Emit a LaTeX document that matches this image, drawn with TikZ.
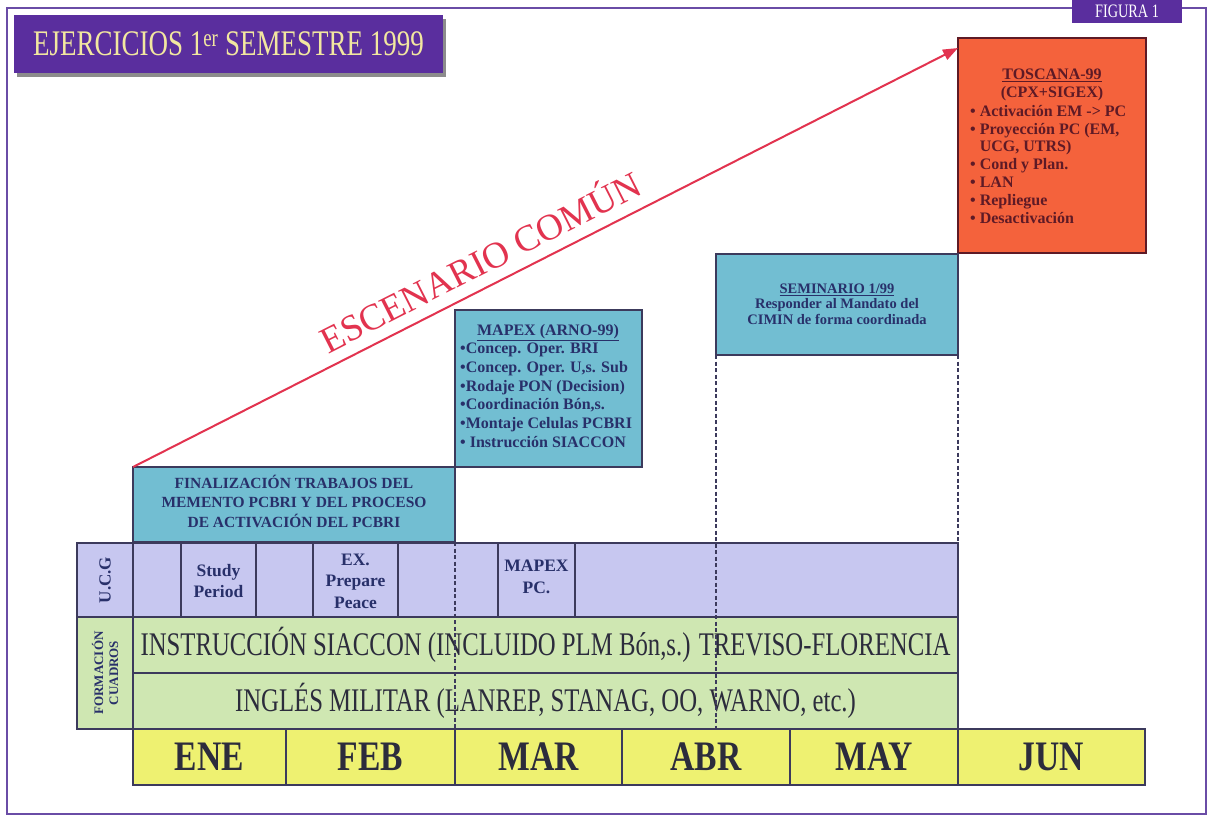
\documentclass[tikz,border=0pt]{standalone}
\usepackage{fontspec}
\setmainfont{Liberation Serif}
\newfontfamily\cond{Liberation Serif}[FakeStretch=0.8]
\newfontfamily\condb{Liberation Serif}[FakeStretch=0.75]
\usetikzlibrary{arrows.meta}
\definecolor{framec}{HTML}{6A4CA6}
\definecolor{titlec}{HTML}{5A2E9E}
\definecolor{titletext}{HTML}{F2E7A0}
\definecolor{toscc}{HTML}{F4623C}
\definecolor{tosctext}{HTML}{5E1A26}
\definecolor{tealc}{HTML}{72BED2}
\definecolor{boxtext}{HTML}{28306A}
\definecolor{ucgc}{HTML}{C7C7F0}
\definecolor{greenc}{HTML}{CFE7B2}
\definecolor{monthc}{HTML}{EEF171}
\definecolor{linec}{HTML}{3C3A5C}
\definecolor{arrowc}{HTML}{E2334F}
\definecolor{rowtext}{HTML}{2C2C3C}
\begin{document}
\begin{tikzpicture}[x=1pt,y=-1pt,
  cell/.style={draw=linec, line width=1.2pt, anchor=north west, inner sep=0pt, outer sep=0pt},
  boxtxt/.style={inner sep=0pt, text=boxtext, font=\bfseries\fontsize{15.5}{19}\selectfont},
  celltxt/.style={inner sep=0pt, align=center, text=boxtext, font=\bfseries\fontsize{17.5}{21.5}\selectfont},
  rowtxt/.style={inner sep=0pt, text=rowtext, font=\condb\fontsize{33}{33}\selectfont},
  monthtxt/.style={inner sep=0pt, text=rowtext, font=\cond\bfseries\fontsize{42}{42}\selectfont},
  dashline/.style={draw=linec, line width=1.2pt, dash pattern=on 4pt off 2.5pt},
  divider/.style={draw=linec, line width=1.2pt}
]
\useasboundingbox (0,0) rectangle (1209,817);
\fill[white] (0,0) rectangle (1209,817);
% outer frame
\draw[framec, line width=2pt] (7,8) rectangle (1206,814);
% title
\fill[black!45] (17,19) rectangle (446,77);
\node[cell, draw=none, fill=titlec, minimum width=429pt, minimum height=58pt, text=titletext,
      font=\condb\fontsize{36}{36}\selectfont] (title) at (14,15) {EJERCICIOS 1\textsuperscript{er} SEMESTRE 1999};
\node[cell, draw=none, fill=titlec, minimum width=110pt, minimum height=23pt, text=white,
      font=\condb\fontsize{19}{19}\selectfont] (fig) at (1072,0) {FIGURA 1};

% TOSCANA
\node[cell, fill=toscc, draw=tosctext, minimum width=188pt, minimum height=215pt] (tosc) at (958,38) {};
\node[anchor=north, align=center, inner sep=0pt, text=tosctext, font=\bfseries\fontsize{16}{17.8}\selectfont]
  (toscT) at (1052,69) {\underline{TOSCANA-99}\\(CPX+SIGEX)};
\node[anchor=north west, align=left, inner sep=0pt, text=tosctext, font=\bfseries\fontsize{16}{17.8}\selectfont]
  (toscL) at (970,105) {• Activación EM -> PC\\• Proyección PC (EM,\\\phantom{• }UCG, UTRS)\\• Cond y Plan.\\• LAN\\• Repliegue\\• Desactivación};

% MAPEX
\node[cell, fill=tealc, minimum width=187pt, minimum height=157pt] (mapex) at (455,310) {};
\node[boxtxt, anchor=north, font=\bfseries\fontsize{16}{19}\selectfont] (mapexT) at (548,324) {\underline{MAPEX (ARNO-99)}};
\node[boxtxt, anchor=north west, align=left, font=\bfseries\fontsize{16}{18.7}\selectfont] (mapexL) at (460,343)
  {•Concep. Oper. BRI\\•Concep. Oper. U,s. Sub\\•Rodaje PON (Decision)\\•Coordinación Bón,s.\\•Montaje Celulas PCBRI\\• Instrucción SIACCON};

% SEMINARIO
\node[cell, fill=tealc, minimum width=242pt, minimum height=101pt] (sem) at (716,254) {};
\node[boxtxt, align=center, font=\bfseries\fontsize{14.5}{15.5}\selectfont] (semT) at (837,304)
  {\underline{SEMINARIO 1/99}\\Responder al Mandato del\\CIMIN de forma coordinada};

% FINALIZACION
\node[cell, fill=tealc, minimum width=322pt, minimum height=75pt] (fin) at (133,467) {};
\node[boxtxt, align=center, font=\bfseries\fontsize{15.5}{19.5}\selectfont] (finT) at (294,501)
  {FINALIZACIÓN TRABAJOS DEL\\MEMENTO PCBRI Y DEL PROCESO\\DE ACTIVACIÓN DEL PCBRI};

% U.C.G row
\node[cell, fill=ucgc, minimum width=56pt, minimum height=74pt] (ucgl) at (77,543) {};
\node[rotate=90, inner sep=0pt, text=boxtext, font=\bfseries\fontsize{17}{17}\selectfont] (ucgT) at (ucgl.center) {U.C.G};
\node[cell, fill=ucgc, minimum width=825pt, minimum height=74pt] (ucgrow) at (133,543) {};
\foreach \xx in {181,256,313,398,498,575} \draw[divider] (\xx,543) -- (\xx,617);
\node[celltxt] (study) at (218.5,581) {Study\\Period};
\node[celltxt] (prep) at (355.5,581) {EX.\\Prepare\\Peace};
\node[celltxt] (mpc) at (536.5,577) {MAPEX\\PC.};

% FORMACION rows
\node[cell, fill=greenc, minimum width=56pt, minimum height=112pt] (forml) at (77,617) {};
\node[rotate=90, inner sep=0pt, align=center, text=boxtext, font=\bfseries\fontsize{13}{15}\selectfont] (formT) at (forml.center) {FORMACIÓN\\CUADROS};
\node[cell, fill=greenc, minimum width=825pt, minimum height=56pt] (row1) at (133,617) {};
\node[rowtxt] (row1T) at (row1.center) {INSTRUCCIÓN SIACCON (INCLUIDO PLM Bón,s.) TREVISO-FLORENCIA};
\node[cell, fill=greenc, minimum width=825pt, minimum height=56pt] (row2) at (133,673) {};
\node[rowtxt] (row2T) at (row2.center) {INGLÉS MILITAR (LANREP, STANAG, OO, WARNO, etc.)};

% months
\node[cell, fill=monthc, minimum width=153pt, minimum height=56pt] (ene) at (133,729) {};
\node[cell, fill=monthc, minimum width=169pt, minimum height=56pt] (feb) at (286,729) {};
\node[cell, fill=monthc, minimum width=167pt, minimum height=56pt] (mar) at (455,729) {};
\node[cell, fill=monthc, minimum width=168pt, minimum height=56pt] (abr) at (622,729) {};
\node[cell, fill=monthc, minimum width=168pt, minimum height=56pt] (may) at (790,729) {};
\node[cell, fill=monthc, minimum width=187pt, minimum height=56pt] (jun) at (958,729) {};
\node[monthtxt] (eneT) at (ene.center) {ENE};
\node[monthtxt] (febT) at (feb.center) {FEB};
\node[monthtxt] (marT) at (mar.center) {MAR};
\node[monthtxt] (abrT) at (abr.center) {ABR};
\node[monthtxt] (mayT) at (may.center) {MAY};
\node[monthtxt] (junT) at (jun.center) {JUN};

% dashed guides
\draw[dashline] (fin.south east) -- (fin.south east |- ene.north);
\draw[dashline] (sem.south west) -- (sem.south west |- ene.north);
\draw[dashline] (sem.south east) -- (sem.south east |- ucgrow.north);

% arrow
\coordinate (aend) at (958,48);
\draw[arrowc, line width=2pt, -{Triangle[length=15pt,width=11pt]}] (fin.north west) -- (aend)
  node[pos=0.435, sloped, above=11pt, inner sep=0pt, text=arrowc, font=\fontsize{37}{37}\selectfont] (esc) {ESCENARIO COMÚN};
\end{tikzpicture}
\end{document}
